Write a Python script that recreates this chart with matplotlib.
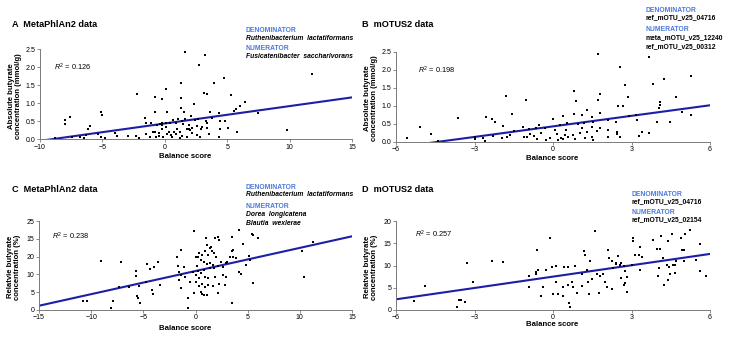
import numpy as np
import matplotlib
matplotlib.use('Agg')
import matplotlib.pyplot as plt

plt.rcParams['font.family'] = ['Liberation Sans', 'DejaVu Sans']
plt.rcParams['mathtext.fontset'] = 'custom'
plt.rcParams['mathtext.rm'] = 'Liberation Sans'
plt.rcParams['mathtext.it'] = 'Liberation Sans:italic'

# ---- data (balance score, butyrate) ----
pts_a = [(1.62,2.42),(3.2,2.35),(2.72,2.07),(11.8,1.82),(4.78,1.72),(3.94,1.58),(1.27,1.56),(3.14,1.30),
         (3.35,1.25),(5.33,1.24),(-2.2,1.26),(0.1,1.39),(-0.79,1.18),(-0.22,1.13),(1.29,1.14),(6.43,1.04),
         (6.03,0.94),(2.34,0.98),(-5.11,0.76),(-5.03,0.67),(-8.0,0.54),(-7.62,0.63),(-8.0,0.42),(-6.0,0.38),
         (-6.15,0.28),(-6.8,0.06),(-8.8,0.03),(-7.4,0.06),(-6.5,0.04),(-6.3,0.12),(-5.33,0.15),(-5.14,0.08),
         (-4.8,0.03),(-4.0,0.17),(-3.8,0.09),(-2.92,0.09),(-2.3,0.10),(-2.1,0.03),(-1.6,0.60),(-1.13,0.45),
         (-0.82,0.20),(-0.7,0.08),(-0.2,0.30),(0.15,0.75),(0.1,0.45),(-0.25,0.47),(-0.79,0.77),(0.14,0.75),
         (1.29,0.87),(1.56,0.75),(2.1,0.65),(3.62,0.75),(4.37,0.73),(2.63,0.58),(3.27,0.50),(4.43,0.52),
         (4.86,0.52),(5.55,0.78),(5.71,0.86),(7.44,0.73),(9.82,0.26),(5.82,0.22),(5.07,0.33),(4.43,0.28),
         (4.37,0.08),(3.56,0.14),(3.35,0.31),(2.93,0.29),(2.55,0.38),(2.18,0.32),(1.9,0.30),(1.24,0.21),
         (0.89,0.14),(0.57,0.07),(0.3,0.21),(0.1,0.35),(-0.26,0.40),(-0.66,0.40),(-0.98,0.21),(-1.2,0.08),
         (-1.47,0.14),(-0.45,0.19),(-0.13,0.08),(1.34,0.52),(1.6,0.56),(1.08,0.58),(0.68,0.53),(0.41,0.45),
         (-1.47,0.47),(-0.4,0.42),(1.43,0.42),(1.76,0.30),(2.16,0.17),(2.55,0.13),(2.82,0.06),(1.4,0.10),
         (1.76,0.06),(1.24,0.03),(0.17,0.15),(0.7,0.21),(3.0,0.36),(3.4,0.45),(2.0,0.25),(1.0,0.30),
         (0.5,0.12),(2.4,0.55),(3.8,0.60),(1.9,0.40),(0.9,0.45),(-0.5,0.10)]

pts_b = [(1.71,2.44),(3.68,2.37),(2.56,2.09),(5.26,1.83),(4.24,1.74),(3.81,1.60),(2.75,1.58),(0.80,1.42),
         (1.80,1.33),(0.88,1.14),(1.73,1.17),(2.85,1.26),(4.70,1.26),(4.09,1.12),(4.1,1.04),(4.06,0.95),
         (2.66,1.0),(2.5,1.0),(4.92,0.84),(5.26,0.74),(3.17,0.75),(1.8,0.81),(1.29,0.89),(0.80,0.77),
         (1.1,0.75),(1.48,0.69),(0.37,0.72),(3.96,0.56),(4.47,0.56),(3.2,0.61),(2.9,0.72),(2.11,0.61),
         (2.41,0.56),(1.54,0.56),(1.19,0.54),(0.97,0.49),(0.52,0.54),(0.27,0.47),(3.30,0.17),(3.39,0.29),
         (3.68,0.24),(2.56,0.13),(2.43,0.29),(2.43,0.22),(2.1,0.33),(1.8,0.38),(1.7,0.31),(1.5,0.41),
         (1.29,0.29),(1.1,0.38),(1.03,0.24),(1.22,0.10),(1.48,0.13),(1.54,0.05),(0.78,0.19),(0.84,0.07),
         (0.59,0.15),(0.46,0.19),(0.4,0.07),(0.5,0.33),(2.1,0.15),(-1.8,1.29),(-1.03,1.18),(-1.58,0.78),
         (-3.62,0.67),(-2.56,0.70),(-2.35,0.64),(-2.22,0.56),(-5.08,0.43),(-4.67,0.22),(-5.59,0.12),(-4.4,0.03),
         (-3.0,0.08),(-2.68,0.10),(-2.6,0.03),(-2.3,0.18),(-1.93,0.10),(-1.76,0.15),(-1.63,0.20),(-1.5,0.31),
         (-1.16,0.41),(-1.12,0.15),(-1.0,0.13),(-0.88,0.21),(-0.74,0.17),(-0.65,0.38),(-0.55,0.47),(-0.45,0.24),
         (-0.28,0.05),(-0.11,0.10),(0.0,0.63),(0.07,0.33),(0.17,0.22),(0.32,0.10),(0.44,0.19),(-0.3,0.40),
         (-0.9,0.35),(-1.9,0.45),(-3.0,0.15),(0.2,0.05),(-0.6,0.08)]

# y of panel C is in axis position units (the original tick labels swap 15 and 20)
pts_c = [(-9.06,13.76),(-7.17,13.4),(-10.75,2.5),(-10.43,2.6),(-8.13,0.56),(-7.9,2.5),(-7.3,6.6),(-6.37,6.6),
         (-5.4,6.8),(-5.73,10.96),(-5.73,9.55),(-5.56,3.9),(-5.47,3.4),(-5.32,2.06),(-4.68,12.98),(-4.36,11.4),
         (-3.98,11.96),(-3.56,13.4),(-4.2,5.6),(-4.1,4.5),(-4.75,7.9),(-3.4,7.0),(-1.8,14.8),(-1.64,12.4),
         (-1.55,10.6),(-1.4,9.8),(-1.55,8.4),(-1.43,6.3),(-1.36,16.8),(-1.1,12.1),(-1.0,9.3),(-0.55,7.9),
         (-0.7,3.3),(-0.7,0.5),(-0.19,22.2),(0.0,14.8),(0.1,12.4),(0.2,15.0),(-0.13,4.7),(0.3,8.9),
         (0.98,20.1),(1.86,20.1),(2.2,20.4),(2.3,19.7),(3.5,20.6),(4.2,22.4),(5.4,21.3),(5.55,21.1),
         (6.0,20.1),(4.55,18.5),(1.1,18.3),(1.35,17.3),(1.5,17.8),(0.9,16.7),(1.6,16.6),(0.3,15.9),
         (0.6,15.5),(1.2,15.5),(1.8,15.9),(2.0,15.0),(2.45,13.6),(2.9,13.1),(3.0,13.6),(3.5,16.6),
         (3.6,16.8),(3.3,15.0),(3.6,15.0),(3.9,14.5),(0.5,14.0),(0.8,13.6),(1.1,12.8),(1.4,13.1),
         (1.7,12.6),(2.15,12.4),(2.6,12.2),(1.4,11.7),(1.8,11.9),(0.8,11.2),(0.2,10.9),(-0.2,10.7),
         (0.0,9.8),(0.5,10.3),(0.9,9.3),(1.2,8.9),(1.9,9.3),(2.6,9.8),(2.9,9.3),(4.2,10.7),
         (4.4,10.2),(4.8,12.6),(5.1,15.3),(5.2,14.1),(5.5,7.7),(0.0,7.9),(0.3,6.8),(0.6,7.4),
         (0.9,6.5),(1.2,7.0),(1.7,6.7),(2.3,7.4),(2.8,7.0),(0.5,5.0),(0.6,4.4),(0.8,4.2),
         (1.1,4.2),(2.2,4.7),(3.5,1.9),(10.2,16.6),(11.3,19.1),(10.4,9.3)]

pts_d = [(-5.3,2.1),(-4.89,5.4),(-3.68,0.6),(-3.6,2.25),(-3.53,2.25),(-3.36,1.88),(-3.3,10.48),(-3.05,6.4),
         (-2.34,11.0),(-1.9,10.7),(-0.92,7.6),(-0.92,5.2),(-0.66,8.5),(-0.66,8.0),(-0.6,13.5),(-0.56,9.0),
         (-0.45,3.1),(-0.37,5.2),(-0.25,9.0),(-0.13,16.25),(-0.05,9.7),(0.12,10.0),(0.1,6.2),(0.0,3.6),
         (0.18,3.6),(0.4,3.2),(0.4,5.2),(0.58,9.6),(0.74,6.4),(1.60,17.75),(0.62,1.5),(0.64,0.6),
         (1.2,13.3),(0.42,9.6),(0.84,9.96),(1.22,12.4),(1.31,8.97),(1.12,8.06),(1.4,11.0),(1.5,6.97),
         (1.7,8.2),(1.8,7.6),(1.9,8.0),(2.11,13.5),(2.15,11.6),(2.27,11.0),(2.4,10.3),(2.5,12.2),
         (2.56,10.1),(2.75,8.7),(2.82,7.5),(1.99,6.4),(2.05,5.2),(2.25,4.7),(1.77,3.75),(1.39,3.6),
         (0.93,3.75),(0.78,5.2),(0.59,5.6),(1.1,5.4),(1.35,6.4),(2.75,6.0),(2.72,5.6),(2.82,4.1),
         (2.6,7.1),(3.04,16.25),(3.04,15.5),(3.33,14.2),(3.14,12.4),(3.27,12.4),(3.39,12.0),(3.31,9.0),
         (3.81,15.7),(4.12,16.6),(3.97,13.6),(4.1,13.6),(4.22,11.6),(4.41,15.4),(4.54,17.0),(4.45,9.7),
         (4.6,10.2),(4.66,10.1),(4.7,10.9),(4.35,10.1),(4.06,9.5),(4.03,7.6),(4.47,8.0),(4.66,8.4),
         (4.25,5.7),(4.4,6.7),(4.88,16.1),(5.05,17.0),(5.22,17.98),(4.92,13.4),(5.0,13.4),(5.0,10.9),
         (5.62,14.9),(5.47,11.2),(5.62,8.7),(5.84,7.6),(2.4,10.6),(2.6,10.5),(2.7,9.9),(3.0,10.1),(2.3,9.5)]

# fitted lines (intercept, slope) and R^2
fit_a = (0.445, 0.0483)
fit_b = (0.434, 0.0977)
fit_c = (10.95, 0.65)
fit_d = (7.5, 0.85)
r2 = ['0.126', '0.198', '0.238', '0.257']

xticks_a = [-10, -5, 0, 5, 10, 15]
xticks_b = [-6, -3, 0, 3, 6]
xticks_c = [-15, -10, -5, 0, 5, 10, 15]
yticks_ab = [0.0, 0.5, 1.0, 1.5, 2.0, 2.5]
yticks_c = [0, 5, 10, 15, 20, 25]
ytick_labels_c = ['0', '5', '10', '20', '15', '25']
yticks_d = [0, 5, 10, 15, 20]

titles = ['A  MetaPhlAn2 data', 'B  mOTUS2 data', 'C  MetaPhlAn2 data', 'D  mOTUS2 data']
ylab_abs = 'Absolute butyrate\nconcentration (mmol/g)'
ylab_rel = 'Relatvie butyrate\nconcentration (%)'

den_a = ['Ruthenibacterium  lactatiformans']
num_a = ['Fusicatenibacter  saccharivorans']
den_b = ['ref_mOTU_v25_04716']
num_b = ['meta_mOTU_v25_12240', 'ref_mOTU_v25_00312']
den_c = ['Ruthenibacterium  lactatiformans']
num_c = ['Dorea  longicatena', 'Blautia  wexlerae']
den_d = ['ref_mOTU_v25_04716']
num_d = ['ref_mOTU_v25_02154']

W, H = 743, 346
fig = plt.figure(figsize=(W / 100, H / 100), dpi=100)

def fx(p):
    return p / W

def fy(p):
    return 1 - p / H

blue_txt = '#4a78dc'
line_col = '#1c1fa6'
spine_col = '#7a7a7a'

# axes boxes in pixels: left, top(ymax), right, bottom(ymin)
boxes = [(40, 49.5, 352, 139.5), (396, 52, 710, 142), (39, 221, 352, 310), (396, 221, 710, 310)]

def make_ax(box):
    l, t, r, b = box
    ax = fig.add_axes([fx(l), fy(b), (r - l) / W, (b - t) / H])
    for s in ['top', 'right']:
        ax.spines[s].set_visible(False)
    for s in ['left', 'bottom']:
        ax.spines[s].set_color(spine_col)
        ax.spines[s].set_linewidth(0.7)
    ax.tick_params(length=2, width=0.6, color=spine_col, labelsize=5.0, pad=1.2)
    ax.patch.set_alpha(0)
    return ax

def panel(ax, pts, fit, xlim, ylim):
    arr = np.array(pts)
    xs = np.array(xlim, dtype=float)
    ax.plot(xs, fit[0] + fit[1] * xs, color=line_col, lw=1.5, zorder=2)
    ax.scatter(arr[:, 0], arr[:, 1], s=4.2, color='black', marker='s', lw=0, zorder=3, clip_on=False)
    ax.set_xlim(xlim)
    ax.set_ylim(ylim)

axA = make_ax(boxes[0])
panel(axA, pts_a, fit_a, (-10, 15), (0, 2.5))
axA.set_xticks(xticks_a)
axA.set_yticks(yticks_ab)

axB = make_ax(boxes[1])
panel(axB, pts_b, fit_b, (-6, 6), (0, 2.5))
axB.set_xticks(xticks_b)
axB.set_yticks(yticks_ab)

axC = make_ax(boxes[2])
panel(axC, pts_c, fit_c, (-15, 15), (0, 25))
axC.set_xticks(xticks_c)
axC.set_yticks(yticks_c)
axC.set_yticklabels(ytick_labels_c)

axD = make_ax(boxes[3])
panel(axD, pts_d, fit_d, (-6, 6), (0, 20))
axD.set_xticks(xticks_b)
axD.set_yticks(yticks_d)

# titles
fig.text(fx(12), fy(24.5), titles[0], fontsize=6.6, fontweight='bold', va='center')
fig.text(fx(362), fy(24.5), titles[1], fontsize=6.6, fontweight='bold', va='center')
fig.text(fx(12), fy(190), titles[2], fontsize=6.6, fontweight='bold', va='center')
fig.text(fx(362), fy(190), titles[3], fontsize=6.6, fontweight='bold', va='center')

# axis labels
ylabs = [ylab_abs, ylab_abs, ylab_rel, ylab_rel]
xlab_pos = [(185.5, 156), (552, 158.5), (185, 328), (552, 324.5)]
for box, yl, xp in zip(boxes, ylabs, xlab_pos):
    l, t, r, b = box
    fig.text(fx(l - 25), fy((t + b) / 2 + 1.5), yl, rotation=90, ha='center', va='center',
             fontsize=5.6, fontweight='bold', linespacing=1.05)
    fig.text(fx(xp[0]), fy(xp[1]), 'Balance score', ha='center', va='center',
             fontsize=5.6, fontweight='bold')

# R^2 annotations
r2_pos = [(54, 67.5), (418, 70.5), (51.5, 236), (415, 234.5)]
for (px, py), val in zip(r2_pos, r2):
    fig.text(fx(px), fy(py), r'$R^2$ = ' + val, fontsize=5.3, va='center')

# denominator / numerator boxes
def taxa_block(x, y_den, y_num, den, num, italic, step=8.3):
    style = 'italic' if italic else 'normal'
    fig.text(fx(x), fy(y_den), 'DENOMINATOR', color=blue_txt, fontsize=4.9, fontweight='bold', va='center')
    for i, name in enumerate(den):
        fig.text(fx(x), fy(y_den + 7.5 + i * step), name, fontsize=4.9, fontweight='bold',
                 fontstyle=style, va='center')
    fig.text(fx(x), fy(y_num), 'NUMERATOR', color=blue_txt, fontsize=4.9, fontweight='bold', va='center')
    for i, name in enumerate(num):
        fig.text(fx(x), fy(y_num + 8 + i * step), name, fontsize=4.9, fontweight='bold',
                 fontstyle=style, va='center')

taxa_block(245.5, 31, 49, den_a, num_a, True)
taxa_block(646, 10, 29.5, den_b, num_b, False, step=9)
taxa_block(245.5, 187.5, 207, den_c, num_c, True)
taxa_block(632, 194, 212, den_d, num_d, False)

fig.savefig('out.png', dpi=100)
